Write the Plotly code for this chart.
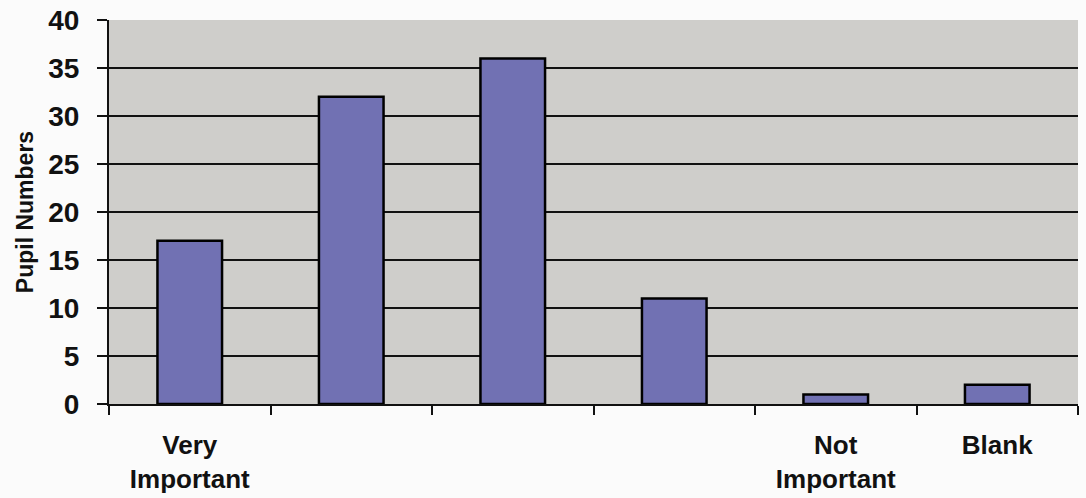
import plotly.graph_objects as go

categories = ["Very<br>Important", " ", "  ", "   ", "Not<br>Important", "Blank"]
values = [17, 32, 36, 11, 1, 2]
y_ticks = [0, 5, 10, 15, 20, 25, 30, 35, 40]

fig = go.Figure()
fig.add_trace(go.Bar(
    x=categories, y=values,
    marker=dict(color="#7171b3", line=dict(color="#000000", width=2.5)),
    width=0.4,
))

font_family = "Liberation Sans, Arial, sans-serif"
fig.update_layout(
    width=1086, height=498,
    margin=dict(l=109, r=8, t=20, b=94),
    paper_bgcolor="#fbfbfb",
    plot_bgcolor="#cfcecb",
    showlegend=False,
    bargap=0.6,
    font=dict(family=font_family, color="#111111"),
)
fig.update_xaxes(
    type="category",
    automargin=False,
    tickson="boundaries",
    ticks="outside", ticklen=9, tickwidth=2, tickcolor="#111",
    showline=True, linecolor="#111", linewidth=2,
    showgrid=False,
    tickfont=dict(size=26, family=font_family, weight="bold"),
    ticklabelstandoff=17,
)
fig.update_yaxes(
    range=[0, 40],
    automargin=False,
    tickvals=y_ticks,
    ticks="outside", ticklen=10, tickwidth=2, tickcolor="#111",
    showline=True, linecolor="#111", linewidth=2,
    showgrid=True, gridcolor="#111", gridwidth=2,
    zeroline=False,
    tickfont=dict(size=28, family=font_family, weight="bold"),
    ticklabelstandoff=12,
    title=dict(text="Pupil Numbers", font=dict(size=23, family=font_family, weight="bold"), standoff=8),
)
fig.write_html("out.html")
